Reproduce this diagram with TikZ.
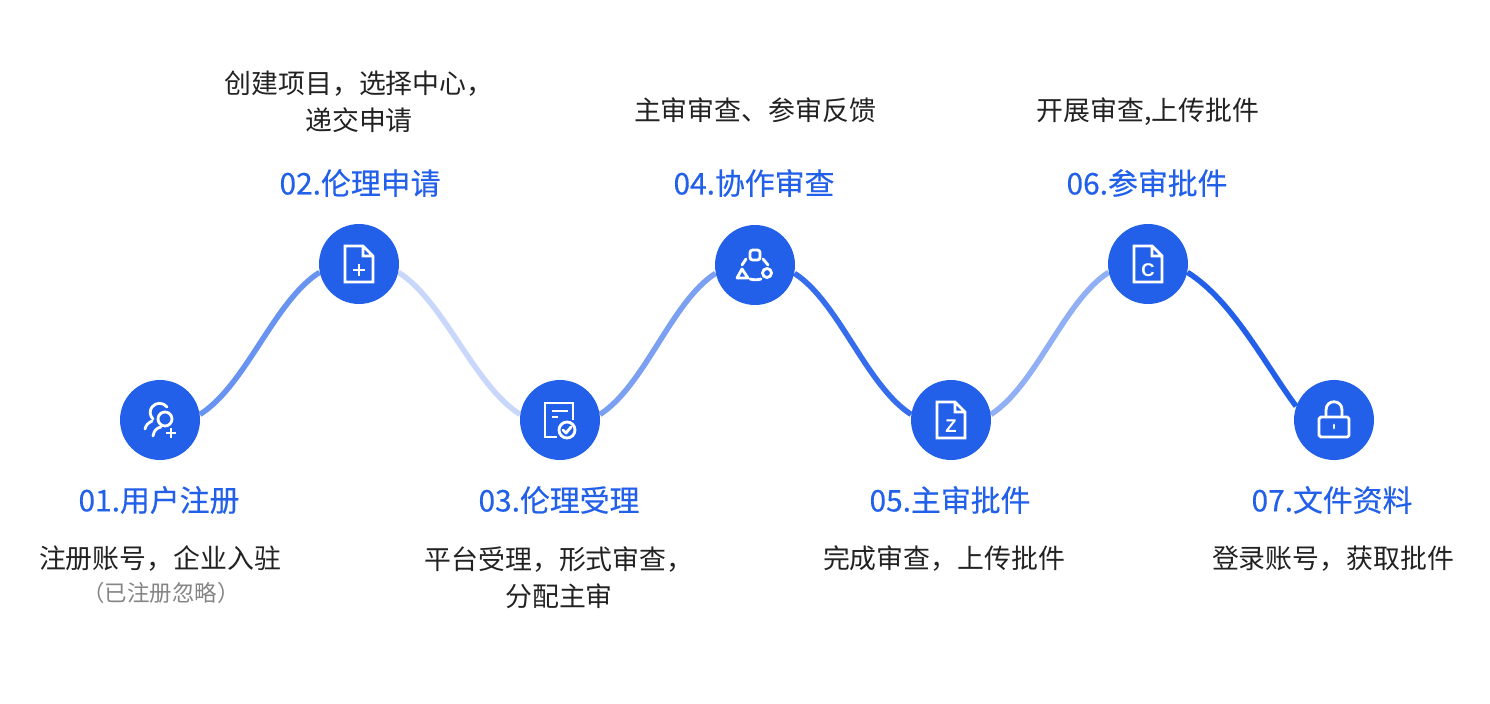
\documentclass[tikz,border=0pt]{standalone}
\usepackage{fontspec}
\setmainfont{Noto Sans CJK SC}
\newfontfamily\titlefont[FakeBold=0.4]{Noto Sans CJK SC}
\newfontfamily\letterfont{Liberation Sans}
\definecolor{myblue}{HTML}{2360EA}
\definecolor{mytext}{HTML}{222222}
\definecolor{mygray}{HTML}{858585}
\usetikzlibrary{positioning, backgrounds}
\tikzset{
	stepdot/.style={circle, fill=myblue, minimum size=1.6cm, inner sep=0pt}
}
\tikzset{
	steptitle/.style={font=\titlefont\fontsize{17}{20}\selectfont, text=myblue}
}
\tikzset{
	steptext/.style={font=\fontsize{15.3}{21}\selectfont, text=mytext, align=center}
}
\tikzset{
	stepnote/.style={font=\fontsize{12.8}{15}\selectfont, text=mygray}
}
\tikzset{
	linkline/.style={line width=1.1mm, draw=#1}
}
\tikzset{
	iconline/.style={draw=white, line width=1.6pt, line join=round, line cap=round}
}
\tikzset{
	docicon/.pic={
			\draw[iconline, line cap=butt, line join=miter]
			(-14,-18) -- (4,-18) -- (14,-8) -- (14,18) -- (-14,18) -- cycle
			(4,-18) -- (4,-8) -- (14,-8);
			\node[text=white, inner sep=0pt, font=\letterfont\bfseries\fontsize{10.5}{10.5}\selectfont] (-letter) at (0,6) {#1};
		},
	addicon/.pic={
			\draw[iconline, line cap=butt, line join=miter]
			(-14,-18) -- (4,-18) -- (14,-8) -- (14,18) -- (-14,18) -- cycle
			(4,-18) -- (4,-8) -- (14,-8);
			\draw[iconline, line cap=butt] (-6,6) -- (6,6) (0,0) -- (0,12);
		},
	usericon/.pic={
			\draw[iconline] (5,-1) circle[radius=7];
			\draw[iconline] (-7,16) .. controls (-6,10) and (-3,8) .. (1,7);
			\draw[iconline] (7,-13) .. controls (3,-18) and (-4,-18) .. (-8,-13) .. controls (-11,-9) and (-10,-4) .. (-7,-1);
			\draw[iconline] (-15,9) .. controls (-14,5) and (-12,3) .. (-8,1);
			\draw[iconline, line cap=butt] (6,13) -- (16,13) (11,8) -- (11,18);
		},
	checkicon/.pic={
			\draw[iconline, line cap=butt, line join=miter] (13,0) -- (13,-17) -- (-15,-17) -- (-15,17) -- (-3,17);
			\draw[iconline, line cap=butt] (-8,-9) -- (8,-9) (-8,-3) -- (-2,-3);
			\draw[iconline] (7,10) circle[radius=8];
			\draw[iconline] (3,10) -- (6,13) -- (11,7);
		},
	cycleicon/.pic={
			\draw[iconline, rounded corners=1.5pt] (-5,-15) rectangle (5,-5);
			\draw[iconline] (-13,4) -- (-7,13) -- (-18,13) -- cycle;
			\draw[iconline] (12,8) circle[radius=4.5];
			\draw[iconline] (-13,0) -- (-9,-6) (8,-6) -- (13,0);
			\draw[iconline] (-5,14) .. controls (-2,15) and (3,15) .. (6,14);
		},
	lockicon/.pic={
			\draw[iconline, rounded corners=1pt] (-15,-3) rectangle (15,17);
			\draw[iconline] (-8,-3) -- (-8,-10) .. controls (-8,-21) and (8,-21) .. (8,-10) -- (8,-3);
			\draw[iconline] (0,5) -- (0,8);
		}
}

\begin{document}
\begin{tikzpicture}[x=0.02cm, y=-0.02cm]

			\useasboundingbox (0,0) rectangle (1490,703);

			\node[stepdot] (n1) at (160,420) {};
			\node[stepdot] (n2) at (359,264) {};
			\node[stepdot] (n3) at (560,420) {};
			\node[stepdot] (n4) at (755,265) {};
			\node[stepdot] (n5) at (951,420) {};
			\node[stepdot] (n6) at (1148,264) {};
			\node[stepdot] (n7) at (1334,420) {};

			\begin{scope}[on background layer]
				\draw[linkline={myblue!68}] (n1.8) .. controls +(46,-29) and +(-45,28) .. (n2.192);
				\draw[linkline={myblue!25}] (n2.-12) .. controls +(45,28) and +(-46,-29) .. (n3.172);
				\draw[linkline={myblue!60}] (n3.8) .. controls +(45,-29) and +(-44,28) .. (n4.192);
				\draw[linkline={myblue!92}] (n4.-12) .. controls +(44,28) and +(-45,-29) .. (n5.172);
				\draw[linkline={myblue!50}] (n5.8) .. controls +(45,-29) and +(-44,28) .. (n6.192);
				\draw[linkline={myblue}] (n6.-12) .. controls +(45,28) and +(-30,-40) .. (n7.160);
			\end{scope}

			\pic at (n1) {usericon};
			\pic at (n2) {addicon};
			\pic at (n3) {checkicon};
			\pic at (n4) {cycleicon};
			\pic (docz) at (n5) {docicon={Z}};
			\pic (docc) at (n6) {docicon={C}};
			\pic at (n7) {lockicon};

			\node[steptitle] (t1) at (159,500) {01.用户注册};
			\node[steptitle] (t2) at (360,183) {02.伦理申请};
			\node[steptitle] (t3) at (559,500) {03.伦理受理};
			\node[steptitle] (t4) at (754,183) {04.协作审查};
			\node[steptitle] (t5) at (950,500) {05.主审批件};
			\node[steptitle] (t6) at (1147,183) {06.参审批件};
			\node[steptitle] (t7) at (1332,500) {07.文件资料};

			\node[steptext] (d1) at (160,559) {注册账号，企业入驻};
			\node[stepnote] (e1) at (161,593) {（已注册忽略）};
			\node[steptext] (d2) at (359,102) {创建项目，选择中心，\\递交申请};
			\node[steptext] (d3) at (559,578) {平台受理，形式审查，\\分配主审};
			\node[steptext] (d4) at (755,110) {主审审查、参审反馈};
			\node[steptext] (d5) at (944,559) {完成审查，上传批件};
			\node[steptext] (d6) at (1148,112) {开展审查,上传批件};
			\node[steptext] (d7) at (1333,559) {登录账号，获取批件};

		\end{tikzpicture}
\end{document}
